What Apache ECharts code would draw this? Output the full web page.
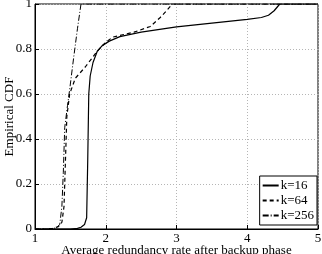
<!DOCTYPE html>
<html><head><meta charset="utf-8">
<script src="https://cdn.jsdelivr.net/npm/echarts@6/dist/echarts.min.js"></script>
<style>html,body{margin:0;padding:0;background:#fff}#c{width:322px;height:254px}</style>
</head><body><div id="c"></div>
<script>
const k16X = [1.0, 1.5, 1.6, 1.65, 1.7, 1.73, 1.745, 1.76, 1.78, 1.82, 1.88, 1.95, 2.05, 2.2, 2.5, 3.0, 3.5, 4.0, 4.2, 4.3, 4.38, 4.46, 5.0];
const k16Y = [0, 0, 0.003, 0.008, 0.02, 0.05, 0.3, 0.6, 0.68, 0.74, 0.79, 0.815, 0.835, 0.855, 0.875, 0.898, 0.915, 0.932, 0.94, 0.95, 0.97, 1.0, 1.0];
const k64X = [1.0, 1.15, 1.25, 1.33, 1.38, 1.41, 1.43, 1.45, 1.49, 1.57, 1.71, 1.88, 2.0, 2.1, 2.4, 2.63, 2.77, 2.86, 2.94, 5.0];
const k64Y = [0, 0, 0.003, 0.01, 0.03, 0.1, 0.3, 0.5, 0.6, 0.67, 0.72, 0.79, 0.83, 0.853, 0.875, 0.9, 0.94, 0.97, 1.0, 1.0];
const k256X = [1.0, 1.2, 1.3, 1.35, 1.38, 1.4, 1.42, 1.46, 1.49, 1.55, 1.6, 1.65, 5.0];
const k256Y = [0, 0, 0.005, 0.02, 0.1, 0.25, 0.45, 0.55, 0.62, 0.77, 0.89, 1.0, 1.0];
const xTicks = [1, 2, 3, 4, 5];
const yTicks = [0, 0.2, 0.4, 0.6, 0.8, 1];

const zip = (xs, ys) => xs.map((x, i) => [x, ys[i]]);
const font = 'Liberation Serif';
const chart = echarts.init(document.getElementById('c'), null, {renderer: 'canvas'});
chart.setOption({
  animation: false,
  backgroundColor: '#fff',
  grid: {left: 35, right: 4, top: 4, bottom: 25, containLabel: false, outerBoundsMode: 'none', show: true, borderColor: '#000', borderWidth: 1},
  xAxis: {
    type: 'value', min: 1, max: 5, interval: 1,
    name: 'Average redundancy rate after backup phase', nameLocation: 'middle', nameGap: 15, nameMoveOverlap: false,
    nameTextStyle: {fontFamily: font, fontSize: 13, color: '#000'},
    axisLine: {lineStyle: {color: '#000'}},
    axisTick: {inside: true, length: 4, lineStyle: {color: '#000'}},
    axisLabel: {fontFamily: font, fontSize: 13, color: '#000', margin: 3,
      formatter: v => xTicks.includes(v) ? String(v) : ''},
    splitLine: {show: true, lineStyle: {color: '#b5b5b5', type: [1, 2], width: 1}}
  },
  yAxis: {
    type: 'value', min: 0, max: 1, interval: 0.2,
    name: 'Empirical CDF', nameLocation: 'middle', nameGap: 19, nameMoveOverlap: false,
    nameTextStyle: {fontFamily: font, fontSize: 13, color: '#000'},
    axisLine: {lineStyle: {color: '#000'}},
    axisTick: {inside: true, length: 4, lineStyle: {color: '#000'}},
    axisLabel: {fontFamily: font, fontSize: 13, color: '#000', margin: 3,
      formatter: v => { const t = yTicks.find(a => Math.abs(a - v) < 1e-9); return t === undefined ? '' : String(t); }},
    splitLine: {show: true, lineStyle: {color: '#b5b5b5', type: [1, 2], width: 1}}
  },
  legend: {
    orient: 'vertical', right: 5, bottom: 29, itemGap: 2, itemWidth: 16, itemHeight: 12,
    padding: [3, 3, 3, 2], borderColor: '#000', borderWidth: 1, backgroundColor: '#fff',
    itemStyle: {opacity: 0},
    textStyle: {fontFamily: font, fontSize: 13, color: '#000', padding: [0, 0, 0, -3]},
    data: ['k=16', 'k=64', 'k=256']
  },
  series: [
    {name: 'k=16', type: 'line', symbol: 'none', symbolSize: 0, showSymbol: false, data: zip(k16X, k16Y), lineStyle: {color: '#000', width: 1.2}, itemStyle: {color: '#000'}},
    {name: 'k=64', type: 'line', symbol: 'none', symbolSize: 0, showSymbol: false, data: zip(k64X, k64Y), lineStyle: {color: '#000', width: 1.2, type: [4, 3]}, itemStyle: {color: '#000'}},
    {name: 'k=256', type: 'line', symbol: 'none', symbolSize: 0, showSymbol: false, data: zip(k256X, k256Y), lineStyle: {color: '#000', width: 1, type: [6, 2, 1, 2]}, itemStyle: {color: '#000'}}
  ]
});
</script></body></html>
